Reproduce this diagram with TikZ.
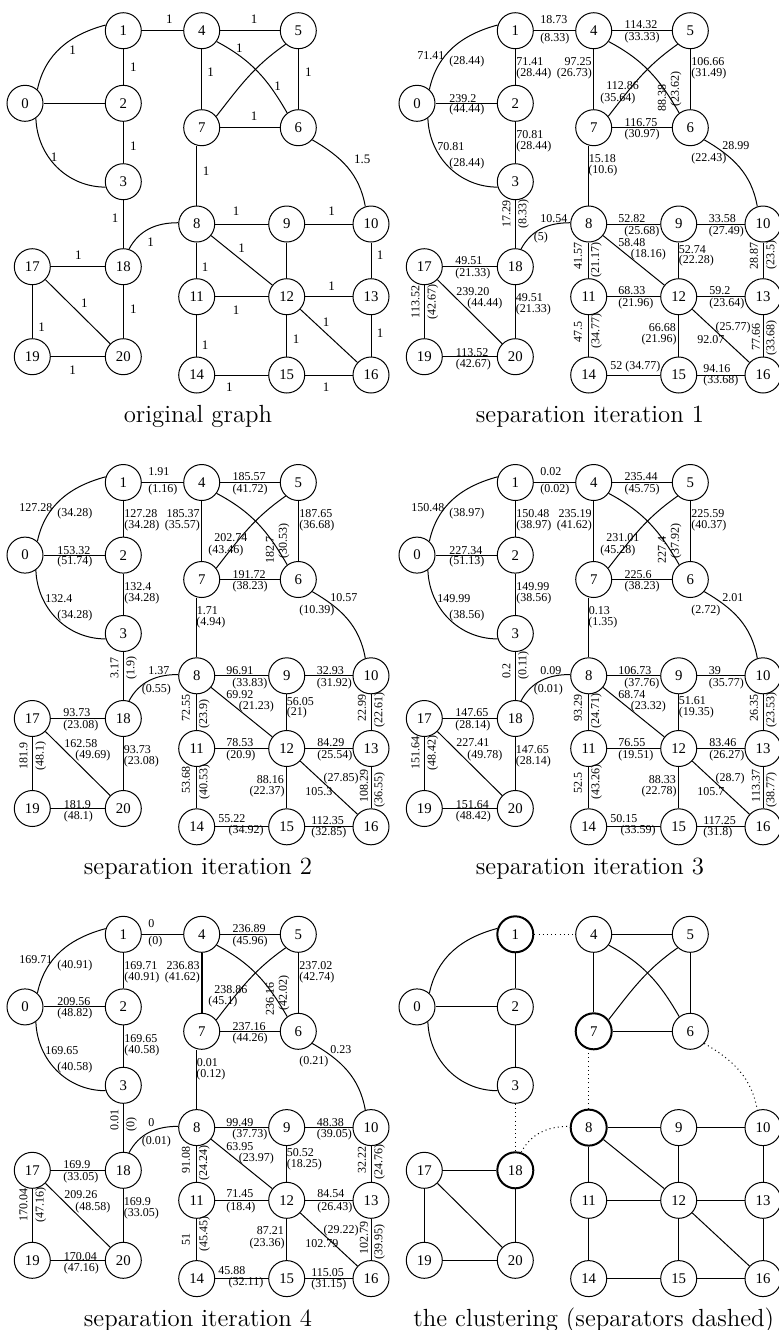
\documentclass[tikz,border=0pt]{standalone}
\usepackage{fontspec}
\newfontfamily\timesnum{Liberation Serif}

% one slot per weight line: position (panel coordinates) and alignment
\tikzset{
  rw/.style={rotate=90},
  w01a/.style={at={(52.7,56)},anchor=east},       w01b/.style={at={(57,62)},anchor=west},
  w02a/.style={at={(57,98.3)},anchor=west},       w02b/.style={at={(57,110)},anchor=west},
  w12a/.style={at={(124,61.7)},anchor=west},      w12b/.style={at={(124,74)},anchor=west},
  w14a/.style={at={(148,20)},anchor=west},        w14b/.style={at={(148,38.3)},anchor=west},
  w45a/.style={at={(232.3,25)},anchor=west},      w45b/.style={at={(232.3,37.5)},anchor=west},
  w47a/.style={at={(200,61.7)},anchor=east},      w47b/.style={at={(200.3,74)},anchor=east},
  w56a/.style={at={(299,62)},anchor=west},        w56b/.style={at={(299,74)},anchor=west},
  w57a/.style={at={(214,86)},anchor=west},        w57b/.style={at={(208,98.5)},anchor=west},
  w46a/.style={at={(270,112)},anchor=west,rw},    w46b/.style={at={(284,107)},anchor=west,rw},
  w76a/.style={at={(232.3,122.7)},anchor=west},   w76b/.style={at={(232.3,135)},anchor=west},
  w03a/.style={at={(45,146.5)},anchor=west},      w03b/.style={at={(57,164)},anchor=west},
  w23a/.style={at={(124,135)},anchor=west},       w23b/.style={at={(124,146.7)},anchor=west},
  w78a/.style={at={(196.5,159)},anchor=west},     w78b/.style={at={(196,171)},anchor=west},
  w610a/.style={at={(330,146)},anchor=west},      w610b/.style={at={(299,158.5)},anchor=west},
  w318a/.style={at={(114.5,227.5)},anchor=west,rw}, w318b/.style={at={(131.5,228.5)},anchor=west,rw},
  w188a/.style={at={(148,218.5)},anchor=west},    w188b/.style={at={(141.5,237.5)},anchor=west},
  w89a/.style={at={(226,219)},anchor=west},       w89b/.style={at={(232,231.5)},anchor=west},
  w910a/.style={at={(316.5,219)},anchor=west},    w910b/.style={at={(316.5,231.5)},anchor=west},
  w811a/.style={at={(186,270)},anchor=west,rw},   w811b/.style={at={(204.3,277.5)},anchor=west,rw},
  w812a/.style={at={(226,243)},anchor=west},      w812b/.style={at={(238.5,255)},anchor=west},
  w912a/.style={at={(286.5,249.3)},anchor=west},  w912b/.style={at={(286.5,261)},anchor=west},
  w1013a/.style={at={(362,270)},anchor=west,rw},  w1013b/.style={at={(379.5,240)},anchor=east,rw},
  w1112a/.style={at={(226,290.3)},anchor=west},   w1112b/.style={at={(226,303.5)},anchor=west},
  w1213a/.style={at={(317,290.3)},anchor=west},   w1213b/.style={at={(317,303.5)},anchor=west},
  w1718a/.style={at={(63,261)},anchor=west},      w1718b/.style={at={(63,274)},anchor=west},
  w1720a/.style={at={(64,291.3)},anchor=west},    w1720b/.style={at={(75,303.7)},anchor=west},
  w1820a/.style={at={(123.5,298)},anchor=west},   w1820b/.style={at={(123.5,309.5)},anchor=west},
  w1719a/.style={at={(23.5,318.5)},anchor=west,rw}, w1719b/.style={at={(40.7,319.5)},anchor=west,rw},
  w1920a/.style={at={(63.5,352.5)},anchor=west},  w1920b/.style={at={(63.5,364.5)},anchor=west},
  w1114a/.style={at={(186,342.5)},anchor=west,rw}, w1114b/.style={at={(204.5,348.5)},anchor=west,rw},
  w1215a/.style={at={(284.3,327.3)},anchor=east}, w1215b/.style={at={(285,340)},anchor=east},
  w1216a/.style={at={(305,339.7)},anchor=west},   w1216b/.style={at={(323.3,327.3)},anchor=west},
  w1316a/.style={at={(364,351)},anchor=west,rw},  w1316b/.style={at={(379.5,356)},anchor=west,rw},
  w1415a/.style={at={(218,366.6)},anchor=west},   w1415b/.style={at={(228.3,379.2)},anchor=west},
  w1516a/.style={at={(311,369)},anchor=west},     w1516b/.style={at={(311,380.5)},anchor=west},
}

% the 21 vertices and 35 edges of one panel; #1 is the name prefix
\newcommand\basegraph[1]{%
  \node[vtx]    (#1-0)  at (25,103.3)    {0};
  \node[sepvtx] (#1-1)  at (123.3,30.7)  {1};
  \node[vtx]    (#1-2)  at (123.3,103.3) {2};
  \node[vtx]    (#1-3)  at (123.3,181.7) {3};
  \node[vtx]    (#1-4)  at (201.7,30.7)  {4};
  \node[vtx]    (#1-5)  at (298.3,30.7)  {5};
  \node[vtx]    (#1-6)  at (298.3,127.7) {6};
  \node[sepvtx] (#1-7)  at (201.7,127.7) {7};
  \node[sepvtx] (#1-8)  at (196.7,224)   {8};
  \node[vtx]    (#1-9)  at (286.7,224)   {9};
  \node[vtx]    (#1-10) at (371,224)     {10};
  \node[vtx]    (#1-11) at (196.7,296.7) {11};
  \node[vtx]    (#1-12) at (286.7,296.7) {12};
  \node[vtx]    (#1-13) at (371,296.7)   {13};
  \node[vtx]    (#1-14) at (196.7,375)   {14};
  \node[vtx]    (#1-15) at (286.7,375)   {15};
  \node[vtx]    (#1-16) at (371,375)     {16};
  \node[vtx]    (#1-17) at (32.3,266.7)  {17};
  \node[sepvtx] (#1-18) at (123.3,266.7) {18};
  \node[vtx]    (#1-19) at (32.3,356.7)  {19};
  \node[vtx]    (#1-20) at (123.3,356.7) {20};
  \draw[gedge] (#1-0.48) to[out=78,in=195] (#1-1.162);
  \draw[gedge] (#1-0) -- (#1-2);
  \draw[gedge] (#1-0.-54) to[out=-88,in=180] (#1-3.197);
  \draw[gedge] (#1-1) -- (#1-2);
  \draw[gedge] (#1-2) -- (#1-3);
  \draw[sepedge] (#1-1) -- (#1-4);
  \draw[gedge] (#1-4) -- (#1-5);
  \draw[edgeAB] (#1-4) -- (#1-7);
  \draw[gedge] (#1-5) -- (#1-6);
  \draw[gedge] (#1-7) -- (#1-6);
  \draw[gedge] (#1-4.-36) to[out=-28,in=120] (#1-6.127);
  \draw[gedge] (#1-5.227) to[out=215,in=52] (#1-7.38);
  \draw[sepedge] (#1-8.north) -- (#1-8.north |- #1-7.south);
  \draw[sepedge] (#1-6.-41) to[out=-30,in=100] (#1-10.108);
  \draw[sepedge] (#1-3) -- (#1-18);
  \draw[sepedge] (#1-18.72) to[out=62,in=180] (#1-8.176);
  \draw[gedge] (#1-8) -- (#1-9);
  \draw[gedge] (#1-9) -- (#1-10);
  \draw[gedge] (#1-8) -- (#1-11);
  \draw[gedge] (#1-8) -- (#1-12);
  \draw[gedge] (#1-9) -- (#1-12);
  \draw[gedge] (#1-10) -- (#1-13);
  \draw[gedge] (#1-11) -- (#1-12);
  \draw[gedge] (#1-12) -- (#1-13);
  \draw[gedge] (#1-11) -- (#1-14);
  \draw[gedge] (#1-12) -- (#1-15);
  \draw[gedge] (#1-12) -- (#1-16);
  \draw[gedge] (#1-13) -- (#1-16);
  \draw[gedge] (#1-14) -- (#1-15);
  \draw[gedge] (#1-15) -- (#1-16);
  \draw[gedge] (#1-17) -- (#1-18);
  \draw[gedge] (#1-17) -- (#1-19);
  \draw[gedge] (#1-17) -- (#1-20);
  \draw[gedge] (#1-18) -- (#1-20);
  \draw[gedge] (#1-19) -- (#1-20);
}

\begin{document}
\begin{tikzpicture}[x=0.5pt,y=-0.5pt,
  vtx/.style={circle,draw,line width=0.5pt,minimum size=18pt,inner sep=0pt,
    font=\timesnum\fontsize{7.4}{8}\selectfont},
  sepvtx/.style={vtx},
  gedge/.style={line width=0.5pt},
  sepedge/.style={gedge},
  edgeAB/.style={gedge},
  wt/.style={font=\timesnum\fontsize{6}{7}\selectfont,inner sep=0pt},
  unit/.style={font=\timesnum\fontsize{6.5}{7}\selectfont,inner sep=0pt},
  caption/.style={font=\fontsize{12.4}{14}\selectfont,inner sep=0pt}]
\fill[white] (0,0) rectangle (779,1330);
\useasboundingbox (0,0) rectangle (779,1330);

% original graph
\begin{scope}
  \basegraph{a}
  \foreach \n/\x/\y/\t in {01/72.7/50.7/1, 12/133.3/67.7/1, 14/169.3/19.3/1, 45/254/19.3/1,
      47/210.7/72.7/1, 46/239.3/48.3/1, 57/277.7/86/1, 56/308.3/72.7/1, 76/254/116/1,
      23/133.3/146/1, 03/54/157.3/1, 78/206/170.7/1, 610/362.3/159/1.5, 318/115/218.3/1,
      188/150.7/241.7/1, 89/236/211.7/1, 910/331.7/211.7/1, 1013/380/255/1, 812/241.7/248.3/1,
      811/205/266.7/1, 1718/78.3/255/1, 1213/331.7/286/1, 1112/236/310/1, 1720/84.3/303.3/1,
      1820/133.3/309.3/1, 1719/41.7/327.3/1, 1216/326/321.7/1, 1316/380/333.3/1,
      1215/296/339.3/1, 1114/205/345/1, 1920/72.7/370/1, 1415/229.3/387.3/1, 1516/326/387.3/1}
    \node[unit] (a-w\n) at (\x,\y) {\t};
  \node[caption] (a-title) at (198,416.7) {original graph};
\end{scope}

% separation iteration 1
\begin{scope}[shift={(392,0)}]
  \basegraph{b}
  \foreach \s/\t in {w01a/71.41, w01b/(28.44), w02a/239.2, w02b/(44.44), w12a/71.41, w12b/(28.44),
      w14a/18.73, w14b/(8.33), w45a/114.32, w45b/(33.33), w47a/97.25, w47b/(26.73),
      w56a/106.66, w56b/(31.49), w57a/112.86, w57b/(35.64), w46a/88.38, w46b/(23.62),
      w76a/116.75, w76b/(30.97), w03a/70.81, w03b/(28.44), w23a/70.81, w23b/(28.44),
      w78a/15.18, w78b/(10.6), w610a/28.99, w610b/(22.43), w318a/17.29, w318b/(8.33),
      w188a/10.54, w188b/(5), w89a/52.82, w89b/(25.68), w910a/33.58, w910b/(27.49),
      w811a/41.57, w811b/(21.17), w812a/58.48, w812b/(18.16), w912a/52.74, w912b/(22.28),
      w1013a/28.87, w1013b/(23.5), w1112a/68.33, w1112b/(21.96), w1213a/59.2, w1213b/(23.64),
      w1718a/49.51, w1718b/(21.33), w1720a/239.20, w1720b/(44.44), w1820a/49.51, w1820b/(21.33),
      w1719a/113.52, w1719b/(42.67), w1920a/113.52, w1920b/(42.67), w1114a/47.5, w1114b/(34.77),
      w1215a/66.68, w1215b/(21.96), w1216a/92.07, w1216b/(25.77), w1316a/77.66, w1316b/(33.68),
      w1415a/52 (34.77), w1516a/94.16, w1516b/(33.68)}
    \node[wt,\s] (b-\s) {\t};
  \node[caption] (b-title) at (198,416.7) {separation iteration 1};
\end{scope}

% separation iteration 2
\begin{scope}[shift={(0,451.8)}]
  \basegraph{c}
  \foreach \s/\t in {w01a/127.28, w01b/(34.28), w02a/153.32, w02b/(51.74), w12a/127.28, w12b/(34.28),
      w14a/1.91, w14b/(1.16), w45a/185.57, w45b/(41.72), w47a/185.37, w47b/(35.57),
      w56a/187.65, w56b/(36.68), w57a/202.74, w57b/(43.46), w46a/182.7, w46b/(30.53),
      w76a/191.72, w76b/(38.23), w03a/132.4, w03b/(34.28), w23a/132.4, w23b/(34.28),
      w78a/1.71, w78b/(4.94), w610a/10.57, w610b/(10.39), w318a/3.17, w318b/(1.9),
      w188a/1.37, w188b/(0.55), w89a/96.91, w89b/(33.83), w910a/32.93, w910b/(31.92),
      w811a/72.55, w811b/(23.9), w812a/69.92, w812b/(21.23), w912a/56.05, w912b/(21),
      w1013a/22.99, w1013b/(22.61), w1112a/78.53, w1112b/(20.9), w1213a/84.29, w1213b/(25.54),
      w1718a/93.73, w1718b/(23.08), w1720a/162.58, w1720b/(49.69), w1820a/93.73, w1820b/(23.08),
      w1719a/181.9, w1719b/(48.1), w1920a/181.9, w1920b/(48.1), w1114a/53.68, w1114b/(40.53),
      w1215a/88.16, w1215b/(22.37), w1216a/105.3, w1216b/(27.85), w1316a/108.29, w1316b/(36.55),
      w1415a/55.22, w1415b/(34.92), w1516a/112.35, w1516b/(32.85)}
    \node[wt,\s] (c-\s) {\t};
  \node[caption] (c-title) at (198,416.7) {separation iteration 2};
\end{scope}

% separation iteration 3
\begin{scope}[shift={(392,451.8)}]
  \basegraph{d}
  \foreach \s/\t in {w01a/150.48, w01b/(38.97), w02a/227.34, w02b/(51.13), w12a/150.48, w12b/(38.97),
      w14a/0.02, w14b/(0.02), w45a/235.44, w45b/(45.75), w47a/235.19, w47b/(41.62),
      w56a/225.59, w56b/(40.37), w57a/231.01, w57b/(45.28), w46a/227.4, w46b/(37.92),
      w76a/225.6, w76b/(38.23), w03a/149.99, w03b/(38.56), w23a/149.99, w23b/(38.56),
      w78a/0.13, w78b/(1.35), w610a/2.01, w610b/(2.72), w318a/0.2, w318b/(0.11),
      w188a/0.09, w188b/(0.01), w89a/106.73, w89b/(37.76), w910a/39, w910b/(35.77),
      w811a/93.29, w811b/(24.71), w812a/68.74, w812b/(23.32), w912a/51.61, w912b/(19.35),
      w1013a/26.35, w1013b/(23.53), w1112a/76.55, w1112b/(19.51), w1213a/83.46, w1213b/(26.27),
      w1718a/147.65, w1718b/(28.14), w1720a/227.41, w1720b/(49.78), w1820a/147.65, w1820b/(28.14),
      w1719a/151.64, w1719b/(48.42), w1920a/151.64, w1920b/(48.42), w1114a/52.5, w1114b/(43.26),
      w1215a/88.33, w1215b/(22.78), w1216a/105.7, w1216b/(28.7), w1316a/113.37, w1316b/(38.77),
      w1415a/50.15, w1415b/(33.59), w1516a/117.25, w1516b/(31.8)}
    \node[wt,\s] (d-\s) {\t};
  \node[caption] (d-title) at (198,416.7) {separation iteration 3};
\end{scope}

% separation iteration 4
\begin{scope}[shift={(0,903.6)}, edgeAB/.style={gedge,line width=1pt}]
  \basegraph{e}
  \foreach \s/\t in {w01a/169.71, w01b/(40.91), w02a/209.56, w02b/(48.82), w12a/169.71, w12b/(40.91),
      w14a/0, w14b/(0), w45a/236.89, w45b/(45.96), w47a/236.83, w47b/(41.62),
      w56a/237.02, w56b/(42.74), w57a/238.86, w57b/(45.1), w46a/236.16, w46b/(42.02),
      w76a/237.16, w76b/(44.26), w03a/169.65, w03b/(40.58), w23a/169.65, w23b/(40.58),
      w78a/0.01, w78b/(0.12), w610a/0.23, w610b/(0.21), w318a/0.01, w318b/(0),
      w188a/0, w188b/(0.01), w89a/99.49, w89b/(37.73), w910a/48.38, w910b/(39.05),
      w811a/91.08, w811b/(24.24), w812a/63.95, w812b/(23.97), w912a/50.52, w912b/(18.25),
      w1013a/32.22, w1013b/(24.76), w1112a/71.45, w1112b/(18.4), w1213a/84.54, w1213b/(26.43),
      w1718a/169.9, w1718b/(33.05), w1720a/209.26, w1720b/(48.58), w1820a/169.9, w1820b/(33.05),
      w1719a/170.04, w1719b/(47.16), w1920a/170.04, w1920b/(47.16), w1114a/51, w1114b/(45.45),
      w1215a/87.21, w1215b/(23.36), w1216a/102.79, w1216b/(29.22), w1316a/102.79, w1316b/(39.95),
      w1415a/45.88, w1415b/(32.11), w1516a/115.05, w1516b/(31.15)}
    \node[wt,\s] (e-\s) {\t};
  \node[caption] (e-title) at (198,416.7) {separation iteration 4};
\end{scope}

% the clustering: separator vertices bold, separator edges dotted
\begin{scope}[shift={(392,903.6)},
    sepvtx/.style={vtx,line width=1pt},
    sepedge/.style={gedge,dash pattern=on 0.5pt off 1.6pt}]
  \basegraph{f}
  \node[caption] (f-title) at (201.8,416.7) {the clustering (separators dashed)};
\end{scope}
\end{tikzpicture}
\end{document}
